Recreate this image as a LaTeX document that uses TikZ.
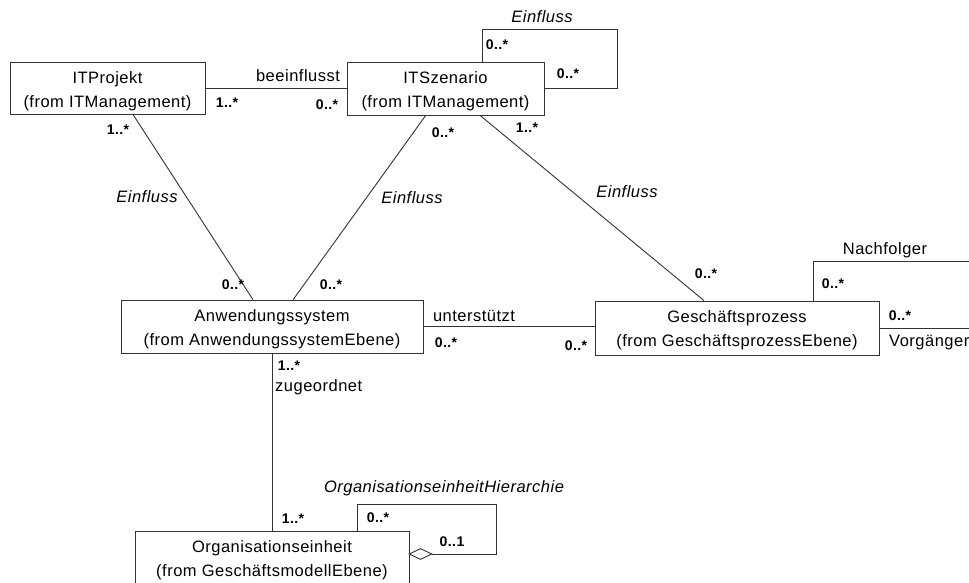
\documentclass[tikz,border=0pt]{standalone}
\usepackage{fontspec}
\setmainfont{Liberation Sans}[LetterSpace=3]
\usetikzlibrary{calc,shapes.geometric}
\begin{document}
\begin{tikzpicture}[x=1pt,y=-1pt,
  cls/.style={draw=black!80,line width=0.9pt,fill=white,inner sep=0pt},
  ctext/.style={align=center,font=\fontsize{16.5}{24}\selectfont,inner sep=0pt},
  assoc/.style={draw=black!80,line width=0.9pt},
  mult/.style={font=\fontsize{14}{16}\selectfont\bfseries,inner sep=0pt},
  role/.style={font=\fontsize{16.5}{19}\selectfont,inner sep=0pt},
  aname/.style={font=\fontsize{16.5}{19}\selectfont\itshape,inner sep=0pt},
  aggr/.style={draw=black!80,line width=0.9pt,fill=white,shape=diamond,
    minimum width=23pt,minimum height=11pt,inner sep=0pt}]
\useasboundingbox (0,0) rectangle (969,582);

% classes
\node[cls,minimum width=195pt,minimum height=52pt] (itp) at (107.5,88) {};
\node[cls,minimum width=197pt,minimum height=53pt] (its) at (445.5,88.5) {};
\node[cls,minimum width=302pt,minimum height=53pt] (anw) at (272,326.5) {};
\node[cls,minimum width=284pt,minimum height=54pt] (gp) at (737,328) {};
\node[cls,minimum width=274pt,minimum height=55pt] (org) at (272,558.5) {};

% class names
\node[ctext] (itpT) at ([yshift=-3pt]itp.center) {ITProjekt\\(from ITManagement)};
\node[ctext] (itsT) at ([yshift=-3pt]its.center) {ITSzenario\\(from ITManagement)};
\node[ctext] (anwT) at ([yshift=-3pt]anw.center) {Anwendungssystem\\(from AnwendungssystemEbene)};
\node[ctext] (gpT) at ([yshift=-2pt]gp.center) {Geschäftsprozess\\(from GeschäftsprozessEbene)};
\node[ctext] (orgT) at ([yshift=-2pt]org.center) {Organisationseinheit\\(from GeschäftsmodellEbene)};

% attachment points on the class borders
\coordinate (itpS) at ($(itp.south west)!0.63!(itp.south east)$);
\coordinate (itsS1) at ($(its.south west)!0.40!(its.south east)$);
\coordinate (itsS2) at ($(its.south west)!0.675!(its.south east)$);
\coordinate (itsN) at ($(its.north west)!0.685!(its.north east)$);
\coordinate (anwN1) at ($(anw.north west)!0.437!(anw.north east)$);
\coordinate (anwN2) at ($(anw.north west)!0.57!(anw.north east)$);
\coordinate (anwS) at ($(anw.south west)!0.503!(anw.south east)$);
\coordinate (gpN1) at ($(gp.north west)!0.384!(gp.north east)$);
\coordinate (gpN2) at ($(gp.north west)!0.768!(gp.north east)$);
\coordinate (orgN) at ($(org.north west)!0.81!(org.north east)$);

% corners of the reflexive associations
\coordinate (itsLoop) at (617,29);
\coordinate (gpLoopTop) at (975,261);
\coordinate (gpLoopEnd) at (975,327);
\coordinate (orgLoop) at (496,504);
\node[aggr] (dia) at (420.5,554) {};

% associations
\draw[assoc] (itp.east) -- (itp.east -| its.west);
\draw[assoc] (itpS) -- (anwN1);
\draw[assoc] (itsS1) -- (anwN2);
\draw[assoc] (itsS2) -- (gpN1);
\draw[assoc] (itsN) |- (itsLoop) |- (its.east);
\draw[assoc] (anw.east) -- (anw.east -| gp.west);
\draw[assoc] (gpN2) |- (gpLoopTop);
\draw[assoc] (gp.east) -- (gp.east -| gpLoopEnd);
\draw[assoc] (anwS) -- (anwS |- org.north);
\draw[assoc] (orgN) |- (orgLoop) |- (dia.east);

% association names and roles
\node[role] (l1) at (298,76) {beeinflusst};
\node[aname] (l2) at (542,17) {Einfluss};
\node[aname] (l3) at (147,197) {Einfluss};
\node[aname] (l4) at (412,198) {Einfluss};
\node[aname] (l5) at (627,192) {Einfluss};
\node[role] (l6) at (474,316) {unterstützt};
\node[role,anchor=west] (l7) at (275,387) {zugeordnet};
\node[role] (l8) at (885,250) {Nachfolger};
\node[role,anchor=west] (l9) at (889,343) {Vorgänger};
\node[aname] (l10) at (444,488) {OrganisationseinheitHierarchie};

% multiplicities
\node[mult] (m1) at (227,103) {1..*};
\node[mult] (m2) at (327,105) {0..*};
\node[mult] (m3) at (497,45) {0..*};
\node[mult] (m4) at (568,74) {0..*};
\node[mult] (m5) at (118,130) {1..*};
\node[mult] (m6) at (443,133) {0..*};
\node[mult] (m7) at (527,128) {1..*};
\node[mult] (m8) at (233,285) {0..*};
\node[mult] (m9) at (331,285) {0..*};
\node[mult] (m10) at (706,274) {0..*};
\node[mult] (m11) at (446,343) {0..*};
\node[mult] (m12) at (576,346) {0..*};
\node[mult] (m13) at (833,284) {0..*};
\node[mult] (m14) at (900,316) {0..*};
\node[mult] (m15) at (289,366) {1..*};
\node[mult] (m16) at (293,519) {1..*};
\node[mult] (m17) at (378,518) {0..*};
\node[mult] (m18) at (452,542) {0..1};
\end{tikzpicture}
\end{document}
